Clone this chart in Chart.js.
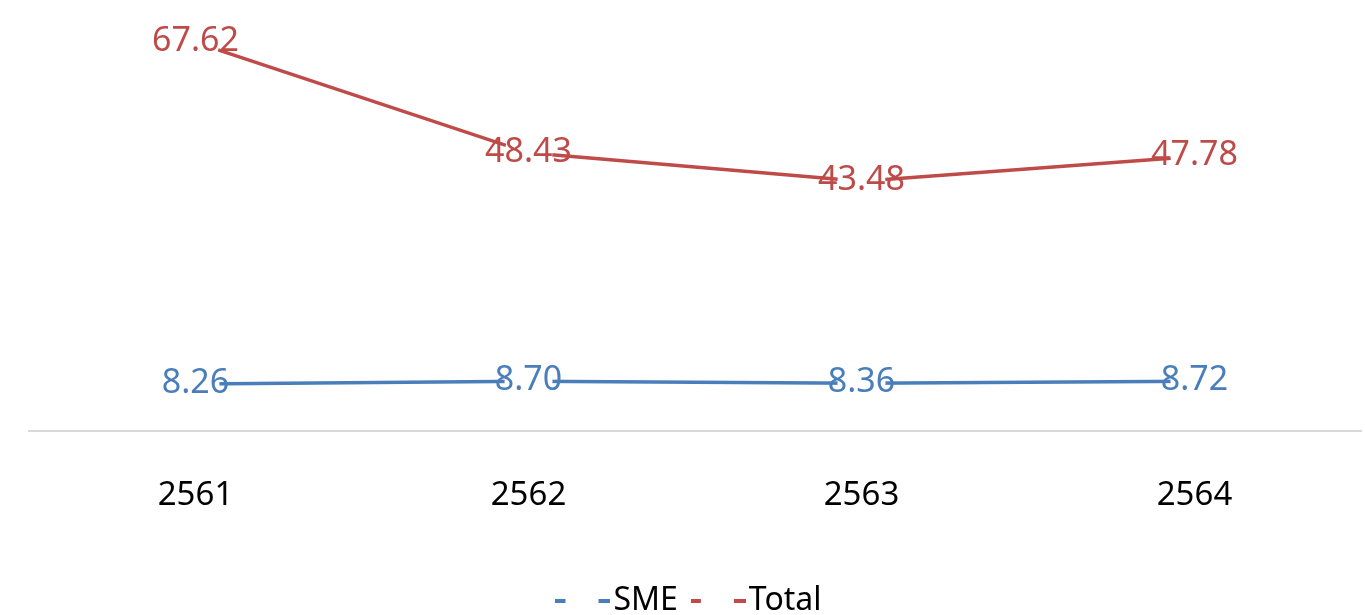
<!DOCTYPE html>
<html lang="en">
<head>
    <meta charset="UTF-8">
    <title>SME vs Total</title>
    <style>
        html, body {
            margin: 0;
            padding: 0;
            background: #ffffff;
            overflow: hidden;
        }

        canvas {
            display: block;
        }
    </style>
</head>
<body>
    <canvas id="line-chart" width="1365" height="615"></canvas>

    <script src="https://cdn.jsdelivr.net/npm/chart.js@4.4.0/dist/chart.umd.min.js"></script>

    <script>
        // data
        const years = ['2561', '2562', '2563', '2564'];
        const smeValues = [8.26, 8.70, 8.36, 8.72];
        const totalValues = [67.62, 48.43, 43.48, 47.78];

        const blue = '#4a7ebb';
        const red = '#be4b48';
        const fontName = "'Noto Sans', 'Open Sans', sans-serif";

        // legend mark: dash, gap, dash
        const makeLegendMark = (color) => {
            const c = document.createElement('canvas');
            c.width = 55;
            c.height = 4;
            const g = c.getContext('2d');
            g.fillStyle = color;
            g.fillRect(0, 0, 10, 4);
            g.fillRect(43, 0, 12, 4);
            return c;
        };

        // value labels centred on each point
        const valueLabels = {
            id: 'valueLabels',
            afterDatasetsDraw(chart) {
                const { ctx } = chart;
                ctx.save();
                ctx.font = '34px ' + fontName;
                ctx.textAlign = 'center';
                ctx.textBaseline = 'middle';
                chart.data.datasets.forEach((ds, i) => {
                    const meta = chart.getDatasetMeta(i);
                    ctx.fillStyle = ds.borderColor;
                    meta.data.forEach((pt, j) => {
                        ctx.fillText(ds.data[j].toFixed(2), pt.x, pt.y - 1);
                    });
                });
                ctx.restore();
            }
        };

        const ctx = document.getElementById('line-chart');

        const chart = new Chart(ctx, {
            type: 'line',
            data: {
                labels: years,
                datasets: [
                    {
                        label: 'SME',
                        data: smeValues,
                        borderColor: blue,
                        borderWidth: 3.5,
                        pointStyle: 'circle',
                        pointRadius: 24,
                        pointBackgroundColor: '#ffffff',
                        pointBorderWidth: 0,
                        clip: false
                    },
                    {
                        label: 'Total',
                        data: totalValues,
                        borderColor: red,
                        borderWidth: 3.5,
                        pointStyle: 'circle',
                        pointRadius: 24,
                        pointBackgroundColor: '#ffffff',
                        pointBorderWidth: 0,
                        clip: false
                    }
                ]
            },
            options: {
                responsive: false,
                animation: false,
                events: [],
                layout: {
                    autoPadding: false,
                    padding: { left: 29, right: 4, top: 0, bottom: -12 }
                },
                scales: {
                    x: {
                        offset: true,
                        grid: {
                            display: false,
                            drawTicks: false
                        },
                        border: {
                            display: true,
                            color: '#d9d9d9',
                            width: 2
                        },
                        ticks: {
                            color: '#000000',
                            font: { family: fontName, size: 33 },
                            padding: 44
                        }
                    },
                    y: {
                        display: false,
                        min: 0,
                        max: 75
                    }
                },
                plugins: {
                    tooltip: { enabled: false },
                    legend: {
                        position: 'bottom',
                        labels: {
                            usePointStyle: true,
                            pointStyleWidth: 29,
                            padding: 26,
                            color: '#000000',
                            font: { family: fontName, size: 32 },
                            generateLabels(chart) {
                                return chart.data.datasets.map((ds, i) => ({
                                    text: ds.label,
                                    pointStyle: makeLegendMark(ds.borderColor),
                                    fillStyle: ds.borderColor,
                                    strokeStyle: ds.borderColor,
                                    lineWidth: 0,
                                    hidden: false,
                                    datasetIndex: i
                                }));
                            }
                        }
                    }
                }
            },
            plugins: [valueLabels]
        });
    </script>
</body>
</html>
